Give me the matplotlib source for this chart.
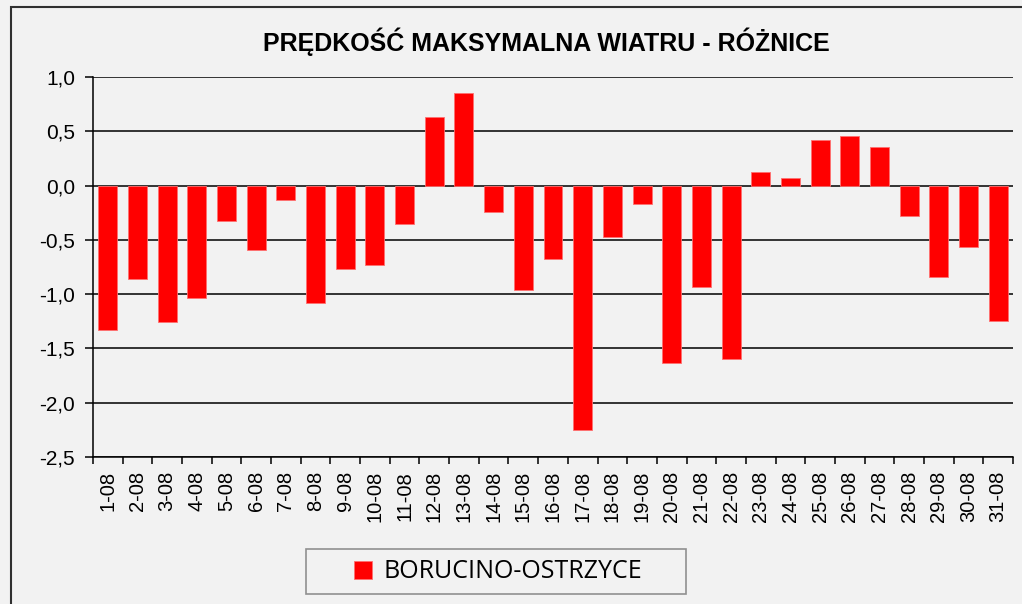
import numpy as np
import matplotlib
matplotlib.use("Agg")
import matplotlib.pyplot as plt
from matplotlib.patches import Rectangle

# data
days = ["%d-08" % d for d in range(1, 32)]
roznice = [-1.33, -0.86, -1.26, -1.04, -0.33, -0.59, -0.13, -1.08, -0.77, -0.73,
           -0.35, 0.63, 0.85, -0.245, -0.96, -0.68, -2.25, -0.475, -0.17, -1.635,
           -0.935, -1.60, 0.126, 0.068, 0.42, 0.455, 0.356, -0.28, -0.84, -0.57,
           -1.245]
y_ticks = [1.0, 0.5, 0.0, -0.5, -1.0, -1.5, -2.0, -2.5]
series_name = "BORUCINO-OSTRZYCE"
title = "PRĘDKOŚĆ MAKSYMALNA WIATRU - RÓŻNICE"

bg = "#F2F2F2"
plt.rcParams["font.family"] = ["Liberation Sans", "DejaVu Sans"]

W, H = 1022, 604
fig = plt.figure(figsize=(W / 100, H / 100), dpi=100, facecolor=bg)
ax = fig.add_axes([93 / W, 1 - 457 / H, 920 / W, 380 / H])
ax.set_facecolor(bg)

# outer chart frame (only top/left visible in the crop)
fig.patches.append(Rectangle((11 / W, -0.2), 2.0, 1.2 - 7 / H,
                             transform=fig.transFigure, fill=False,
                             edgecolor="#303030", linewidth=1.5))

x = np.arange(len(days))
bars = ax.bar(x, roznice, width=0.64, color="#FF0000", edgecolor="#FF7070",
              linewidth=0.6, zorder=3, label=series_name)

ax.set_xlim(-0.5, len(days) - 0.5)
ax.set_ylim(-2.5, 1.0)
ax.set_yticks(y_ticks)
ax.set_yticklabels([("%.1f" % v).replace(".", ",") for v in y_ticks], fontsize=15)
ax.yaxis.grid(True, color="black", linewidth=1.1, zorder=1)
ax.set_axisbelow(True)

ax.set_xticks(x)
ax.set_xticklabels(days, rotation=90, fontsize=14.5)
ax.tick_params(axis="x", length=0, pad=10)
ax.set_xticks(np.arange(-0.5, len(days), 1.0), minor=True)
ax.tick_params(axis="x", which="minor", length=5, width=1.1, direction="out")
ax.tick_params(axis="y", length=6, width=1.1, direction="out", pad=7)

for s in ["top", "right"]:
    ax.spines[s].set_visible(False)
for s in ["left", "bottom"]:
    ax.spines[s].set_linewidth(1.1)
    ax.spines[s].set_color("black")

fig.text(546 / W, 1 - 42 / H, title, ha="center", va="center",
         fontsize=18, fontweight="bold",
         family=["Liberation Sans Narrow", "Liberation Sans", "DejaVu Sans"])

# legend: box drawn separately, wider than the entry like in the reference
fig.patches.append(Rectangle((306 / W, 1 - 594 / H), 380 / W, 45 / H,
                             transform=fig.transFigure, facecolor=bg,
                             edgecolor="#909090", linewidth=1.2))
leg = fig.legend(handles=[bars], labels=[series_name], loc="center",
                 bbox_to_anchor=(498 / W, 1 - 572 / H),
                 frameon=False, handlelength=0.75, handleheight=0.75,
                 handletextpad=0.45, borderpad=0, borderaxespad=0,
                 prop={"family": ["Open Sans", "DejaVu Sans"], "size": 18})

fig.savefig("out.png", dpi=100, facecolor=bg)
